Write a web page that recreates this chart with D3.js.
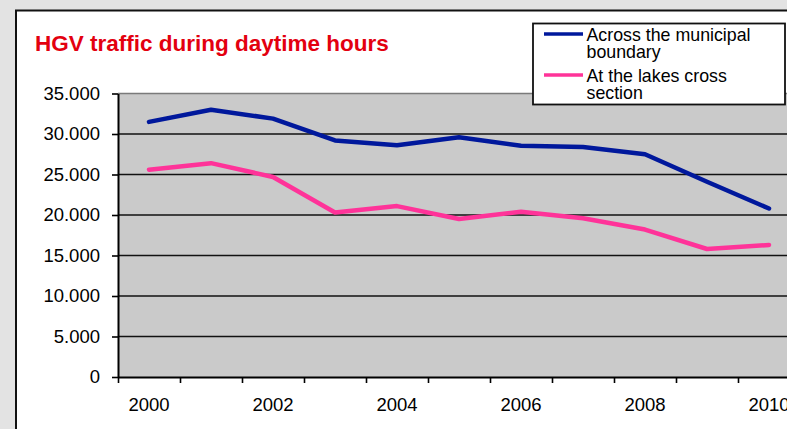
<!DOCTYPE html>
<html>
<head>
<meta charset="utf-8">
<script src="https://cdn.jsdelivr.net/npm/d3@7"></script>
<style>
  html, body { margin: 0; padding: 0; background: #e3e3e3; overflow: hidden; }
  svg { display: block; font-family: Arial, "Liberation Sans", sans-serif; }
</style>
</head>
<body>
<div id="chart"></div>
<script>
// Data
const years = [2000, 2001, 2002, 2003, 2004, 2005, 2006, 2007, 2008, 2009, 2010];
const municipal = [31500, 33000, 31900, 29200, 28600, 29600, 28550, 28400, 27500, 24100, 20800];
const lakes = [25600, 26400, 24700, 20300, 21100, 19500, 20400, 19600, 18200, 15800, 16300];
const yTicks = [0, 5000, 10000, 15000, 20000, 25000, 30000, 35000];
const xLabels = [2000, 2002, 2004, 2006, 2008, 2010];
const seriesNames = ["Across the municipal|boundary", "At the lakes cross|section"];
const seriesColors = ["#00189c", "#ff3399"];

const width = 787;
const height = 429;

const svg = d3.select("#chart")
  .append("svg")
  .attr("width", width)
  .attr("height", height);

// chart area (white panel with dark border, runs off the right/bottom edge)
svg.append("rect")
  .attr("x", 16)
  .attr("y", 10.5)
  .attr("width", 800)
  .attr("height", 450)
  .attr("fill", "#fff")
  .attr("stroke", "#111")
  .attr("stroke-width", 2);

// title
svg.append("text")
  .attr("x", 35)
  .attr("y", 51)
  .attr("fill", "#e3000f")
  .style("font-size", "22.5px")
  .style("font-weight", "bold")
  .text("HGV traffic during daytime hours");

// scales
const plotLeft = 118, plotTop = 93.5, plotBottom = 377;
const bandW = 62;
const x = d3.scaleBand()
  .domain(years)
  .range([plotLeft, plotLeft + bandW * years.length])
  .padding(0);
const xEdge = d3.scaleLinear()
  .domain([0, years.length])
  .range([plotLeft, plotLeft + bandW * years.length]);
const y = d3.scaleLinear()
  .domain([0, 35000])
  .range([plotBottom, plotTop]);

const fmt = d3.formatLocale({ decimal: ",", thousands: ".", grouping: [3], currency: ["", ""] }).format(",d");

// plot background
svg.append("rect")
  .attr("x", plotLeft)
  .attr("y", y(35000))
  .attr("width", x.range()[1] - plotLeft)
  .attr("height", y(0) - y(35000))
  .attr("fill", "#cacaca");

// gridlines
yTicks.filter(t => t > 0).forEach(t => {
  svg.append("line")
    .attr("x1", plotLeft)
    .attr("x2", x.range()[1])
    .attr("y1", y(t))
    .attr("y2", y(t))
    .attr("stroke", t === 35000 ? "#7a7a7a" : "#111")
    .attr("stroke-width", 1.6);
});

// y axis
const yAxis = svg.append("g")
  .attr("transform", `translate(${plotLeft},0)`)
  .call(d3.axisLeft(y).tickValues(yTicks).tickFormat(fmt).tickSize(6).tickPadding(12).tickSizeOuter(0));
yAxis.select(".domain").attr("stroke", "#000").attr("stroke-width", 2);
yAxis.selectAll(".tick line").attr("stroke", "#000").attr("stroke-width", 1.6);
yAxis.selectAll("text")
  .style("font-size", "18.5px")
  .style("font-family", "Arial, 'Liberation Sans', sans-serif")
  .attr("fill", "#000");

// x axis: tick marks on band edges
const xTicks = svg.append("g")
  .attr("transform", `translate(0,${plotBottom})`)
  .call(d3.axisBottom(xEdge).ticks(years.length).tickFormat("").tickSize(6).tickSizeOuter(0));
xTicks.select(".domain").attr("stroke", "#000").attr("stroke-width", 2);
xTicks.selectAll(".tick line").attr("stroke", "#000").attr("stroke-width", 1.6);

// x axis labels at band centres
const xAxis = svg.append("g")
  .attr("transform", `translate(0,${plotBottom})`)
  .call(d3.axisBottom(x).tickValues(xLabels).tickSize(0).tickPadding(21));
xAxis.select(".domain").remove();
xAxis.selectAll("text")
  .style("font-size", "18.5px")
  .style("font-family", "Arial, 'Liberation Sans', sans-serif")
  .attr("fill", "#000");

// lines
const line = d3.line()
  .x((d, i) => x(years[i]) + x.bandwidth() / 2)
  .y(d => y(d));

[municipal, lakes].forEach((s, i) => {
  svg.append("path")
    .datum(s)
    .attr("d", line)
    .attr("fill", "none")
    .attr("stroke", seriesColors[i])
    .attr("stroke-width", 4.5)
    .attr("stroke-linejoin", "round")
    .attr("stroke-linecap", "round");
});

// legend
const legend = svg.append("g").attr("transform", "translate(533,23.5)");
legend.append("rect")
  .attr("width", 252)
  .attr("height", 81)
  .attr("fill", "#fff")
  .attr("stroke", "#111")
  .attr("stroke-width", 1.8);

seriesNames.forEach((name, i) => {
  const g = legend.append("g").attr("transform", `translate(0,${i * 41})`);
  g.append("line")
    .attr("x1", 11)
    .attr("x2", 50)
    .attr("y1", 10.5)
    .attr("y2", 10.5)
    .attr("stroke", seriesColors[i])
    .attr("stroke-width", 3.5);
  const t = g.append("text")
    .attr("x", 53.5)
    .attr("y", 17.2)
    .style("font-size", "17.8px")
    .attr("fill", "#000");
  name.split("|").forEach((part, j) => {
    t.append("tspan")
      .attr("x", 53.5)
      .attr("dy", j === 0 ? 0 : 17.6)
      .text(part);
  });
});
</script>
</body>
</html>
